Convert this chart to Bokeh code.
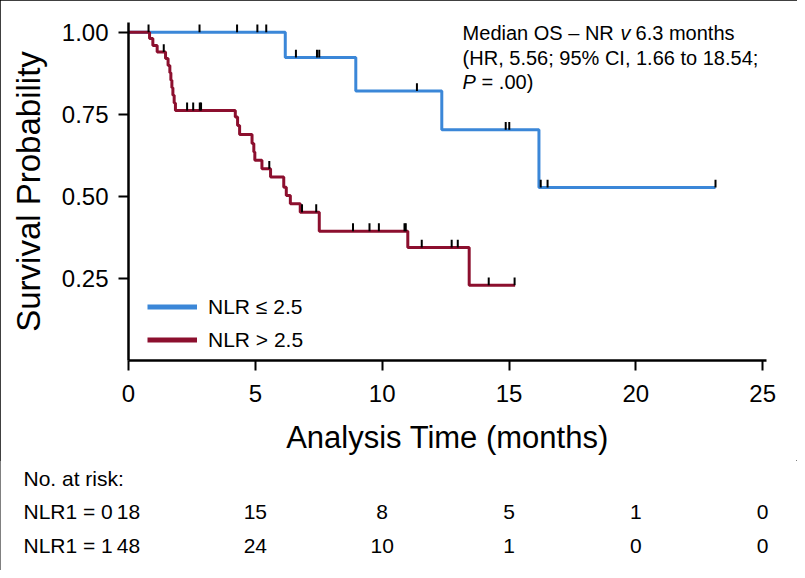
import numpy as np
from bokeh.plotting import figure
from bokeh.layouts import column
from bokeh.models import Range1d, FixedTicker, Label, Legend, LegendItem
from bokeh.core.properties import value
from bokeh.embed import file_html
from bokeh.resources import INLINE

# ---------------- data ----------------
# NLR <= 2.5 : Kaplan-Meier step times (months) and survival levels
low_times = [0.0, 6.18, 8.96, 12.35, 16.18]
low_surv = [1.0, 0.923, 0.821, 0.703, 0.527]
low_end = 23.14
low_censor = [0.79, 2.80, 4.28, 5.08, 5.43, 6.60, 7.43, 7.52, 11.37,
              14.87, 15.01, 16.25, 16.52, 23.14]

# NLR > 2.5
high_times = [0.0, 0.83, 0.96, 1.13, 1.46, 1.56, 1.63, 1.67, 1.71, 1.75,
              1.80, 1.85, 4.21, 4.30, 4.38, 4.87, 4.94, 4.98, 5.26, 5.60,
              6.12, 6.22, 6.38, 6.77, 7.52, 11.01, 13.43]
high_surv = [1.0, 0.981, 0.960, 0.940, 0.920, 0.899, 0.877, 0.854, 0.831,
             0.808, 0.785, 0.762, 0.742, 0.716, 0.689, 0.661, 0.635, 0.610,
             0.584, 0.559, 0.528, 0.503, 0.478, 0.452, 0.394, 0.344, 0.229]
high_end = 15.24
high_censor = [1.39, 2.31, 2.55, 2.81, 2.86, 5.55, 6.84, 7.40, 8.85, 9.50,
               9.87, 10.88, 10.93, 11.56, 12.74, 12.98, 14.20, 15.22]

# number at risk table
risk_times = [0, 5, 10, 15, 20, 25]
risk_low = [18, 15, 8, 5, 1, 0]
risk_high = [48, 24, 10, 1, 0, 0]
risk_rows = ["NLR1 = 0", "NLR1 = 1"]

x_ticks = [0, 5, 10, 15, 20, 25]
y_ticks = [0.25, 0.50, 0.75, 1.00]

BLUE = "#3b87d8"
RED = "#8c0f2e"
FONT = "Liberation Sans"

W = 797
H1 = 460
X_END = 25.15
PX = 638 / X_END          # pixels per month
LEFT = 128

p = figure(width=W, height=H1, output_backend="svg", toolbar_location=None,
           x_range=Range1d(0, X_END), y_range=Range1d(0, 1.03),
           min_border_left=LEFT, min_border_right=W - LEFT - 638,
           min_border_top=22, min_border_bottom=H1 - 22 - 338)
p.frame_align = False
p.grid.visible = False
p.outline_line_color = None
p.background_fill_color = "white"
p.border_fill_color = "white"

def km_xy(times, surv, end):
    return list(times) + [end], list(surv) + [surv[-1]]

def censor_y(times, surv, cens):
    idx = np.searchsorted(np.array(times), np.array(cens), side="right") - 1
    return np.array(surv)[idx]

lx, ly = km_xy(low_times, low_surv, low_end)
hx, hy = km_xy(high_times, high_surv, high_end)
p.step(lx, ly, mode="after", line_color=BLUE, line_width=3)
p.step(hx, hy, mode="after", line_color=RED, line_width=3)

tick_h = 0.024
for tt, s, c in ((low_times, low_surv, low_censor), (high_times, high_surv, high_censor)):
    cy = censor_y(tt, s, c)
    p.segment(x0=c, y0=cy, x1=c, y1=cy + tick_h, line_color="black", line_width=2)

# legend samples (thicker lines, drawn off-range so only the legend shows them)
r_low = p.line([-5, -4], [-1, -1], line_color=BLUE, line_width=5)
r_high = p.line([-5, -4], [-1, -1], line_color=RED, line_width=5)
legend = Legend(items=[LegendItem(label="NLR ≤ 2.5", renderers=[r_low]),
                       LegendItem(label="NLR > 2.5", renderers=[r_high])],
                location=(19, 4), padding=0, margin=0, spacing=0,
                glyph_width=50, glyph_height=33, label_height=33,
                label_standoff=11, border_line_color=None,
                background_fill_alpha=0,
                label_text_font=FONT, label_text_font_size="21px",
                label_text_color="black")
p.add_layout(legend)

# axes
for ax in (p.xaxis[0], p.yaxis[0]):
    ax.axis_line_width = 2.5
    ax.axis_line_color = "black"
    ax.major_tick_line_width = 2
    ax.major_tick_line_color = "black"
    ax.major_tick_out = 10
    ax.major_tick_in = 0
    ax.minor_tick_line_color = None
    ax.major_label_text_font = FONT
    ax.major_label_text_color = "black"
    ax.axis_label_text_font = FONT
    ax.axis_label_text_font_style = "normal"
    ax.axis_label_text_color = "black"

p.xaxis.ticker = FixedTicker(ticks=x_ticks)
p.xaxis.major_label_text_font_size = "24px"
p.xaxis.major_label_standoff = 14
p.xaxis.axis_label = "Analysis Time (months)"
p.xaxis.axis_label_text_font_size = "31px"
p.xaxis.axis_label_standoff = 15

p.yaxis.ticker = FixedTicker(ticks=y_ticks)
p.yaxis.major_label_overrides = {v: f"{v:.2f}" for v in y_ticks}
p.yaxis.major_label_text_font_size = "24px"
p.yaxis.major_label_standoff = 10
p.yaxis.axis_label = "Survival Probability"
p.yaxis.axis_label_text_font_size = "33px"
p.yaxis.axis_label_standoff = 12

# annotation text (top right)
ann_x = 13.17
def lab(x, y, text, xoff=0, style="normal", size="20px"):
    p.add_layout(Label(x=x, y=y, text=text, x_offset=xoff, text_font=FONT,
                       text_font_size=size, text_font_style=style,
                       text_color="black", text_align="left",
                       text_baseline="middle"))

lab(ann_x, 0.997, "Median OS – NR")
lab(ann_x, 0.997, "v", xoff=158, style="italic")
lab(ann_x, 0.997, "6.3 months", xoff=173)
lab(ann_x, 0.923, "(HR, 5.56; 95% CI, 1.66 to 18.54;")
lab(ann_x, 0.849, "P", style="italic")
lab(ann_x, 0.849, "= .00)", xoff=19)

# ---------------- number at risk table (second figure, same x scale) -------
H2 = 570 - H1
t = figure(width=W, height=H2, output_backend="svg", toolbar_location=None,
           x_range=Range1d(-LEFT / PX, (W - LEFT) / PX), y_range=Range1d(H2, 0),
           min_border=0, x_axis_type=None, y_axis_type=None)
t.frame_align = False
t.grid.visible = False
t.outline_line_color = None
t.background_fill_color = "white"
t.border_fill_color = "white"

label_x = -105 / PX
tf = dict(text_font=value(FONT), text_font_size="21px", text_color="black",
          text_baseline="middle")
t.text(x=[label_x], y=[478 - H1], text=["No. at risk:"], text_align="left", **tf)
row_y = [511 - H1, 545 - H1]
t.text(x=[label_x, label_x], y=row_y, text=risk_rows, text_align="left", **tf)
for ry, counts in zip(row_y, (risk_low, risk_high)):
    t.text(x=risk_times, y=[ry] * len(risk_times), text=[str(n) for n in counts],
           text_align="center", **tf)

layout = column(p, t, spacing=0)
layout.styles = {"outline": "1px solid black", "outline-offset": "-1px"}

open("out.html", "w").write(file_html(layout, INLINE))
